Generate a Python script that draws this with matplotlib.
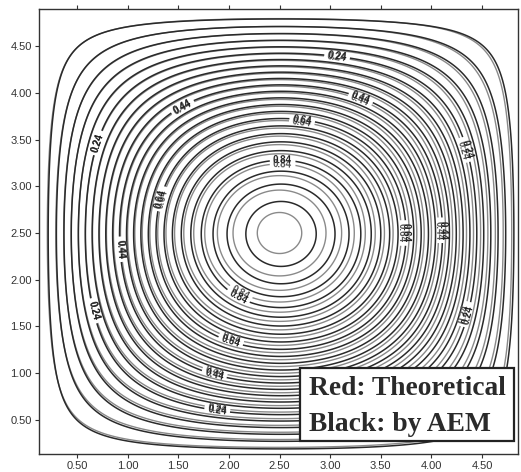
import numpy as np
import matplotlib
matplotlib.use("Agg")
import matplotlib.pyplot as plt
from matplotlib.patches import Rectangle

# ---- data ----
levels = [0.04, 0.08, 0.12, 0.16, 0.20, 0.24, 0.28, 0.32, 0.36, 0.40, 0.44, 0.48,
          0.52, 0.56, 0.60, 0.64, 0.68, 0.72, 0.76, 0.80, 0.84, 0.88, 0.92, 0.96]
label_levels = [0.04, 0.24, 0.44, 0.64, 0.84]
xticks = [0.5, 1.0, 1.5, 2.0, 2.5, 3.0, 3.5, 4.0, 4.5]
yticks = [0.5, 1.0, 1.5, 2.0, 2.5, 3.0, 3.5, 4.0, 4.5]
domain = [0.1, 4.9]
peak_theory = 0.972
peak_aem = 0.99
label_pos = [(3.08, 4.49), (3.34, 4.05), (2.73, 3.76), (2.53, 3.21),
             (1.49, 3.95), (0.60, 3.50), (1.25, 2.89), (0.85, 2.32), (0.56, 1.64),
             (2.14, 1.91), (2.01, 1.32), (1.84, 0.93), (1.88, 0.57),
             (4.43, 3.42), (4.13, 2.53), (3.76, 2.50), (4.38, 1.62)]

# ---- fields (analytical solution & numerical approximation) ----
L = domain[1] - domain[0]
g = np.linspace(domain[0], domain[1], 401)
X, Y = np.meshgrid(g, g)
P = np.clip(np.sin(np.pi * (X - domain[0]) / L) * np.sin(np.pi * (Y - domain[0]) / L), 0, None)
U_theory = peak_theory * P ** 1.2
Pa = np.clip(np.sin(np.pi * (X - domain[0] - 0.015) / L) * np.sin(np.pi * (Y - domain[0] + 0.01) / L), 0, None)
U_aem = peak_aem * Pa ** 1.18

fig = plt.figure(figsize=(5.21, 4.72), dpi=100)
ax = fig.add_axes([39 / 521, 18 / 472, 479 / 521, 445 / 472])

plain_levels = [v for v in levels if all(abs(v - w) > 1e-9 for w in label_levels)]

for U, col, tcol, lw in [(U_theory, "#8a8a8a", "#555555", 1.0), (U_aem, "#2a2a2a", "#222222", 1.1)]:
    ax.contour(X, Y, U, levels=plain_levels, colors=col, linewidths=lw)
    cs = ax.contour(X, Y, U, levels=label_levels, colors=col, linewidths=lw)
    ax.clabel(cs, fmt="%.2f", fontsize=7, inline=True, inline_spacing=2,
              manual=label_pos, colors=tcol)

for t in ax.texts:
    t.set_fontweight("bold")
    t.set_family("Liberation Sans")

ax.set_xlim(0.125, 4.855)
ax.set_ylim(0.136, 4.896)
ax.set_xticks(xticks)
ax.set_yticks(yticks)
ax.set_xticklabels([f"{v:.2f}" for v in xticks])
ax.set_yticklabels([f"{v:.2f}" for v in yticks])
ax.tick_params(axis="both", direction="out", length=3, width=0.8, labelsize=8,
               colors="#333333", pad=2, top=True, right=False)
for lab in ax.get_xticklabels() + ax.get_yticklabels():
    lab.set_family("Liberation Sans")
for s in ax.spines.values():
    s.set_linewidth(1.0)
    s.set_color("#333333")

# legend box
ax.add_patch(Rectangle((0.545, 0.029), 0.447, 0.164, transform=ax.transAxes,
                       facecolor="white", edgecolor="#222222", linewidth=1.6, zorder=10))
ax.text(0.563, 0.148, "Red: Theoretical", transform=ax.transAxes, family="Liberation Serif",
        fontweight="bold", fontsize=19.8, color="#2a2a2a", va="center", ha="left", zorder=11)
ax.text(0.563, 0.066, "Black: by AEM", transform=ax.transAxes, family="Liberation Serif",
        fontweight="bold", fontsize=19.8, color="#2a2a2a", va="center", ha="left", zorder=11)

fig.savefig("out.png", dpi=100)
